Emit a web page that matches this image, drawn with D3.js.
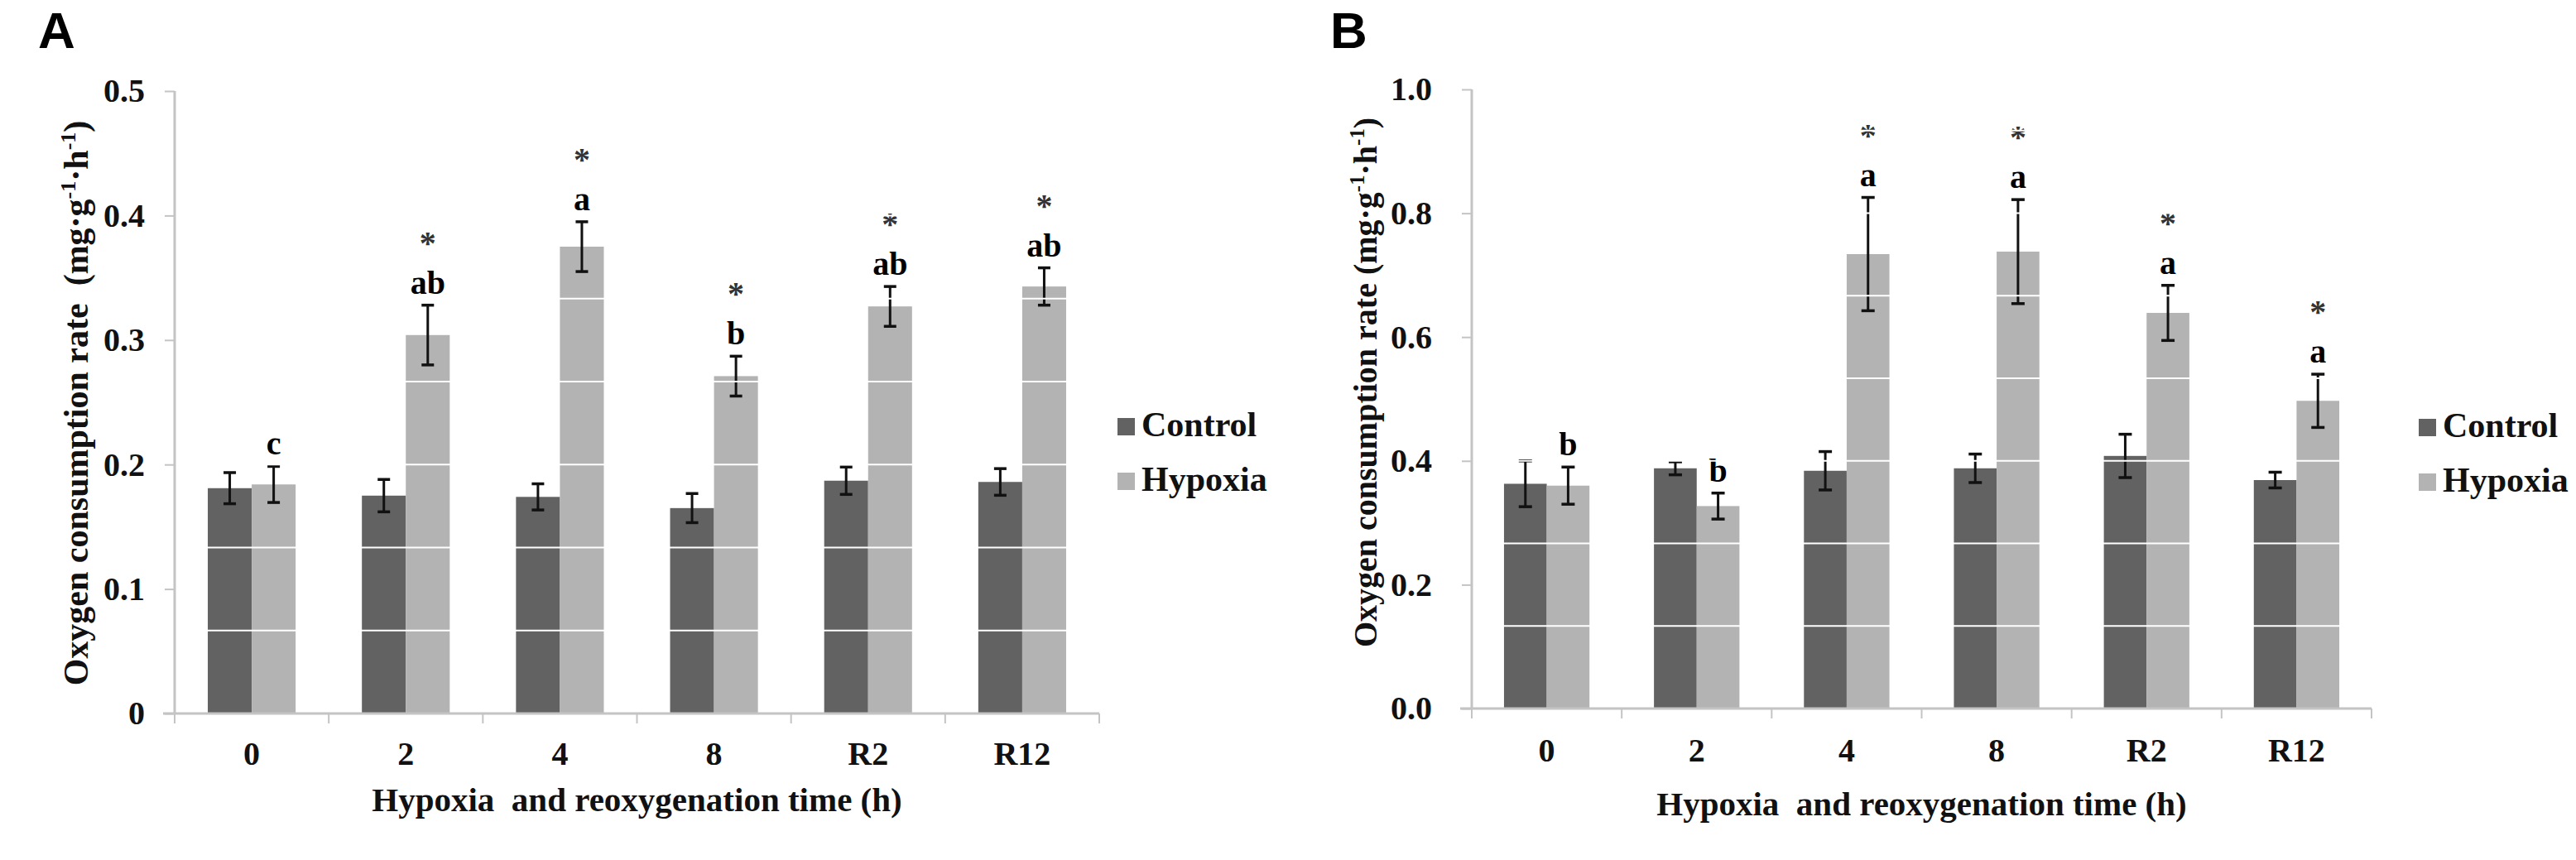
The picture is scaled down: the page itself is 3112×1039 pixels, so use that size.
<!DOCTYPE html>
<html>
<head>
<meta charset="utf-8">
<script src="https://cdn.jsdelivr.net/npm/d3@7/dist/d3.min.js"></script>
<style>
  html, body { margin: 0; padding: 0; background: #fff; }
  svg { display: block; }
  text { font-family: "Liberation Serif", "Times New Roman", serif; font-weight: bold; white-space: pre; }
  text.panel { font-family: "Liberation Sans", Arial, sans-serif; font-weight: bold; }
</style>
</head>
<body>
<script>
// ---------------- data ----------------
const categories = ["0", "2", "4", "8", "R2", "R12"];
const seriesNames = ["Control", "Hypoxia"];

const controlA = [0.181, 0.175, 0.174, 0.165, 0.187, 0.186];
const controlErrA = [0.0125, 0.013, 0.0105, 0.0117, 0.011, 0.0107];
const hypoxiaA = [0.184, 0.304, 0.375, 0.271, 0.327, 0.343];
const hypoxiaErrA = [0.0145, 0.024, 0.020, 0.016, 0.016, 0.015];
const lettersA = ["c", "ab", "a", "b", "ab", "ab"];
const starsA = ["", "*", "*", "*", "*", "*"];
const yTicksA = [0, 0.1, 0.2, 0.3, 0.4, 0.5];
const yTickLabelsA = ["0", "0.1", "0.2", "0.3", "0.4", "0.5"];

const controlB = [0.363, 0.388, 0.384, 0.388, 0.408, 0.369];
const controlErrB = [0.037, 0.0105, 0.031, 0.023, 0.035, 0.0127];
const hypoxiaB = [0.360, 0.327, 0.734, 0.738, 0.639, 0.497];
const hypoxiaErrB = [0.030, 0.021, 0.0915, 0.084, 0.0445, 0.043];
const lettersB = ["b", "b", "a", "a", "a", "a"];
const starsB = ["", "", "*", "*", "*", "*"];
const yTicksB = [0, 0.2, 0.4, 0.6, 0.8, 1.0];
const yTickLabelsB = ["0.0", "0.2", "0.4", "0.6", "0.8", "1.0"];

const xTitle = "Hypoxia  and reoxygenation time (h)";
// ---------------------------------------

const colors = { Control: "#626262", Hypoxia: "#b3b3b3" };
const axisColor = "#c4c4c4";

const svg = d3.select("body").append("svg")
  .attr("width", 3112).attr("height", 1039)
  .attr("xmlns", "http://www.w3.org/2000/svg");

function drawPanel(cfg) {
  const g = svg.append("g");
  const x0 = d3.scaleBand().domain(categories).range([cfg.left, cfg.right]).padding(0);
  const barW = x0.bandwidth() * 0.285;
  const x1 = d3.scaleBand().domain(seriesNames).range([x0.bandwidth() / 2 - barW, x0.bandwidth() / 2 + barW]).padding(0);
  const y = d3.scaleLinear().domain([0, cfg.max]).range([cfg.bottom, cfg.top]);

  const rows = categories.map((c, i) => ({
    cat: c,
    vals: [
      { s: "Control", v: cfg.control[i], e: cfg.controlErr[i] },
      { s: "Hypoxia", v: cfg.hypoxia[i], e: cfg.hypoxiaErr[i] }
    ],
    letter: cfg.letters[i], star: cfg.stars[i]
  }));

  // bars
  const grp = g.selectAll("g.cat").data(rows).join("g")
    .attr("transform", d => `translate(${x0(d.cat)},0)`);
  grp.selectAll("rect").data(d => d.vals).join("rect")
    .attr("x", d => x1(d.s))
    .attr("width", x1.bandwidth())
    .attr("y", d => y(d.v))
    .attr("height", d => y(0) - y(d.v))
    .attr("fill", d => colors[d.s]);

  // white horizontal lines crossing the bars
  const gridVals = d3.range(1, 8).map(k => k * cfg.max / 7.5);
  g.selectAll("line.grid").data(gridVals).join("line")
    .attr("x1", cfg.left - 2).attr("x2", cfg.right)
    .attr("y1", d => y(d)).attr("y2", d => y(d))
    .attr("stroke", "#fff").attr("stroke-width", 2);

  // axes
  const yAxis = d3.axisLeft(y).tickValues(cfg.yTicks).tickSize(12)
    .tickFormat((d, i) => cfg.yTickLabels[i]).tickPadding(cfg.tickPad);
  const ya = g.append("g").attr("transform", `translate(${cfg.left},0)`).call(yAxis);
  ya.select(".domain").attr("stroke", axisColor).attr("stroke-width", 3)
    .attr("d", `M0,${cfg.bottom}V${cfg.top}`);
  ya.selectAll(".tick line").attr("stroke", axisColor).attr("stroke-width", 2);
  ya.selectAll(".tick text").attr("font-size", 40)
    .attr("font-family", "Liberation Serif").attr("font-weight", "bold").attr("fill", "#111");

  const xAxis = d3.axisBottom(x0).tickSize(0).tickPadding(0);
  const xa = g.append("g").attr("transform", `translate(0,${cfg.bottom})`).call(xAxis);
  xa.select(".domain").attr("stroke", axisColor).attr("stroke-width", 3)
    .attr("d", `M${cfg.left - 14},0H${cfg.right}`);
  xa.selectAll(".tick text").attr("font-size", 40)
    .attr("font-family", "Liberation Serif").attr("font-weight", "bold").attr("fill", "#111")
    .attr("dy", null).attr("y", cfg.xLabelOffset);
  // category boundary ticks
  const bounds = categories.map(c => x0(c)).concat([cfg.right]);
  g.selectAll("line.bt").data(bounds).join("line")
    .attr("x1", d => d).attr("x2", d => d)
    .attr("y1", cfg.bottom).attr("y2", cfg.bottom + 12)
    .attr("stroke", axisColor).attr("stroke-width", 2);

  // error bars
  const eb = grp.selectAll("g.eb").data(d => d.vals).join("g")
    .attr("transform", d => `translate(${x1(d.s) + x1.bandwidth() / 2},0)`);
  eb.append("line").attr("x1", 0).attr("x2", 0)
    .attr("y1", d => y(d.v + d.e)).attr("y2", d => y(d.v - d.e))
    .attr("stroke", "#111").attr("stroke-width", 3);
  eb.append("line").attr("x1", -cfg.cap / 2).attr("x2", cfg.cap / 2)
    .attr("y1", d => y(d.v + d.e)).attr("y2", d => y(d.v + d.e))
    .attr("stroke", "#111").attr("stroke-width", 3.5);
  eb.append("line").attr("x1", -cfg.cap / 2).attr("x2", cfg.cap / 2)
    .attr("y1", d => y(d.v - d.e)).attr("y2", d => y(d.v - d.e))
    .attr("stroke", "#111").attr("stroke-width", 3.5);

  // significance letters and stars over hypoxia bars
  const hx = x1("Hypoxia") + x1.bandwidth() / 2;
  grp.append("text")
    .attr("x", hx)
    .attr("y", d => y(d.vals[1].v + d.vals[1].e) - 14)
    .attr("text-anchor", "middle").attr("font-size", 40).attr("fill", "#000")
    .text(d => d.letter);
  grp.append("text")
    .attr("x", hx)
    .attr("y", d => y(d.vals[1].v + d.vals[1].e) - 62)
    .attr("text-anchor", "middle").attr("font-size", 40).attr("fill", "#333")
    .text(d => d.star);

  // y-axis title
  const yt = g.append("text")
    .attr("transform", `translate(${cfg.yTitleX},${cfg.yTitleY}) rotate(-90)`)
    .attr("text-anchor", "middle").attr("font-size", cfg.yTitleSize).attr("fill", "#111");
  yt.append("tspan").text("Oxygen consumption rate" + cfg.yTitleGap + "(mg·g");
  yt.append("tspan").attr("dy", -15).attr("font-size", cfg.yTitleSize * 0.62).text("-1");
  yt.append("tspan").attr("dy", 15).text("·h");
  yt.append("tspan").attr("dy", -15).attr("font-size", cfg.yTitleSize * 0.62).text("-1");
  yt.append("tspan").attr("dy", 15).text(")");

  // x-axis title
  g.append("text")
    .attr("x", (cfg.left + cfg.right) / 2).attr("y", cfg.xTitleY)
    .attr("text-anchor", "middle").attr("font-size", 41).attr("fill", "#111")
    .text(xTitle);

  // legend
  const lg = g.selectAll("g.lg").data(seriesNames).join("g")
    .attr("transform", (d, i) => `translate(${cfg.legendX},${cfg.legendY + i * 66})`);
  lg.append("rect").attr("x", 0).attr("y", -22).attr("width", 21).attr("height", 21)
    .attr("fill", d => colors[d]);
  lg.append("text").attr("x", 29).attr("y", 0).attr("font-size", 42).attr("fill", "#111")
    .text(d => d);

  // panel letter
  svg.append("text").attr("class", "panel").attr("x", cfg.panelX).attr("y", 58)
    .attr("font-size", 62).attr("fill", "#000").text(cfg.panel);
}

drawPanel({
  panel: "A", panelX: 46,
  left: 211, right: 1328, top: 110, bottom: 862, max: 0.5,
  control: controlA, controlErr: controlErrA, hypoxia: hypoxiaA, hypoxiaErr: hypoxiaErrA,
  letters: lettersA, stars: starsA, yTicks: yTicksA, yTickLabels: yTickLabelsA,
  tickPad: 24, xLabelOffset: 62, cap: 15,
  yTitleX: 106, yTitleY: 487, yTitleSize: 42, yTitleGap: "  ",
  xTitleY: 980, legendX: 1350, legendY: 527
});

drawPanel({
  panel: "B", panelX: 1607,
  left: 1778, right: 2865, top: 108, bottom: 856, max: 1.0,
  control: controlB, controlErr: controlErrB, hypoxia: hypoxiaB, hypoxiaErr: hypoxiaErrB,
  letters: lettersB, stars: starsB, yTicks: yTicksB, yTickLabels: yTickLabelsB,
  tickPad: 36, xLabelOffset: 64, cap: 16,
  yTitleX: 1663, yTitleY: 462, yTitleSize: 40, yTitleGap: " ",
  xTitleY: 985, legendX: 2922, legendY: 528
});
</script>
</body>
</html>
